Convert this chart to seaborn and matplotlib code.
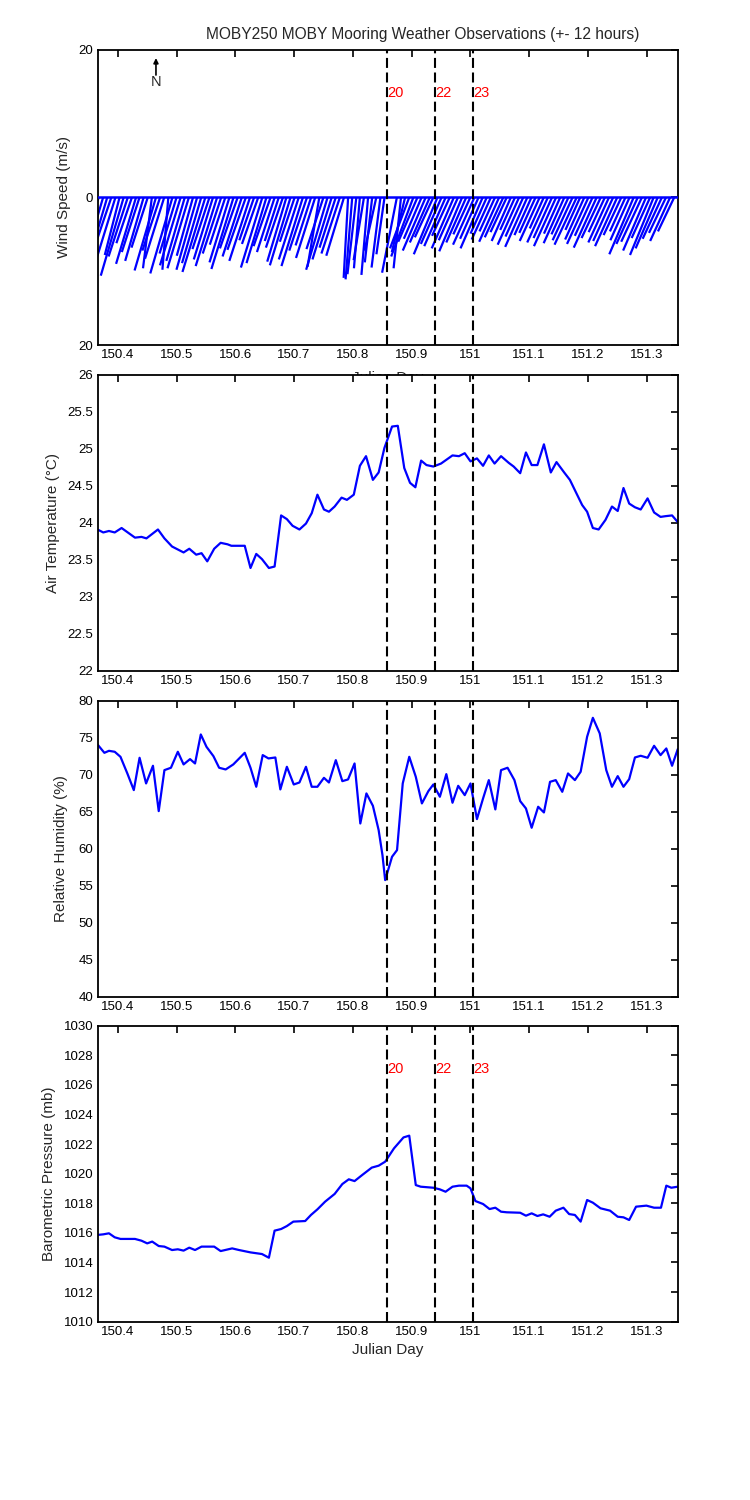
import matplotlib
matplotlib.use("Agg")
import matplotlib.pyplot as plt
from matplotlib.collections import LineCollection
import seaborn as sns

# --- chart text ---
title = "MOBY250 MOBY Mooring Weather Observations (+- 12 hours)"
event_days = [150.858, 150.940, 151.004]
event_labels = ["20", "22", "23"]
xtick_vals = [150.4, 150.5, 150.6, 150.7, 150.8, 150.9, 151.0, 151.1, 151.2, 151.3]

# --- wind sticks (m/s), 10 minute samples ---
wind_day = [
    150.368, 150.375, 150.382, 150.389, 150.396, 150.403, 150.410, 150.417, 150.424, 150.431, 150.437, 150.444,
    150.451, 150.458, 150.465, 150.472, 150.479, 150.486, 150.493, 150.500, 150.507, 150.514, 150.521, 150.528,
    150.535, 150.542, 150.549, 150.556, 150.562, 150.569, 150.576, 150.583, 150.590, 150.597, 150.604, 150.611,
    150.618, 150.625, 150.632, 150.639, 150.646, 150.653, 150.660, 150.667, 150.674, 150.681, 150.687, 150.694,
    150.701, 150.708, 150.715, 150.722, 150.729, 150.736, 150.743, 150.750, 150.757, 150.764, 150.771, 150.778,
    150.785, 150.792, 150.799, 150.806, 150.812, 150.819, 150.826, 150.833, 150.840, 150.847,
    150.854,
    150.875, 150.882, 150.889, 150.896, 150.903, 150.910, 150.917, 150.924, 150.931, 150.937, 150.944, 150.951,
    150.958, 150.965, 150.972, 150.979, 150.986, 150.993, 151.000, 151.007, 151.014, 151.021, 151.028, 151.035,
    151.042, 151.049, 151.056, 151.062, 151.069, 151.076, 151.083, 151.090, 151.097, 151.104, 151.111, 151.118,
    151.125, 151.132, 151.139, 151.146, 151.153, 151.160, 151.167, 151.174, 151.181, 151.187, 151.194, 151.201,
    151.208, 151.215, 151.222, 151.229, 151.236, 151.243, 151.250, 151.257, 151.264, 151.271, 151.278, 151.285,
    151.292, 151.299, 151.306, 151.312, 151.319, 151.326, 151.333, 151.340, 151.347,
]
wind_u = [
    -2.4, -2.6, -3.0, -2.2, -2.9, -2.0, -3.1, -2.6, -2.1, -2.7, -2.4, -2.5,
    -2.2, -1.2, -2.9, -2.4, -2.6, -0.8, -3.0, -2.3, -2.8, -2.5, -2.9, -2.2,
    -2.8, -2.6, -3.1, -2.3, -2.6, -2.9, -2.5, -2.1, -2.7, -3.0, -2.4, -2.6,
    -2.5, -2.8, -2.0, -2.2, -2.9, -2.7, -2.3, -2.4, -1.9, -2.3, -2.6, -2.8,
    -2.0, -2.7, -2.9, -2.4, -2.1, -2.6, -1.6, -2.3, -2.9, -2.6, -2.2, -2.5,
    -2.4, -0.6, -0.9, -1.2, -0.8, -1.4, -0.9, -1.0, -1.6, -1.2,
    -1.1,
    -2.0, -1.0, -1.8, -2.6, -3.0, -2.6, -2.4, -3.1, -2.7, -2.5, -3.2, -2.8,
    -2.9, -2.4, -3.0, -2.6, -3.1, -2.7, -2.3, -2.9, -2.5, -3.0, -2.2, -2.6,
    -2.1, -2.7, -2.5, -2.2, -2.6, -2.0, -2.9, -2.4, -3.0, -2.3, -2.2, -2.7,
    -1.9, -2.8, -2.5, -3.0, -2.2, -2.8, -2.3, -2.7, -3.0, -2.0, -2.6, -2.9,
    -2.4, -3.1, -2.6, -2.2, -2.8, -2.7, -3.0, -2.4, -2.1, -2.6, -3.3, -2.9,
    -2.8, -3.1, -2.5, -3.2, -3.0, -2.6, -2.3, -2.7, -2.2,
]
wind_v = [
    -4.8, -8.9, -10.2, -6.5, -9.4, -7.8, -10.6, -8.0, -6.2, -9.0, -7.4, -8.6,
    -6.8, -9.6, -9.9, -7.2, -8.3, -9.8, -10.3, -7.6, -9.2, -8.6, -9.6, -7.9,
    -9.8, -8.9, -10.1, -7.0, -8.4, -9.3, -7.6, -6.4, -8.8, -9.7, -6.9, -8.0,
    -7.1, -8.6, -5.8, -6.3, -9.5, -8.9, -6.6, -7.4, -5.9, -6.8, -8.7, -9.2,
    -6.0, -8.4, -9.3, -7.2, -6.5, -8.2, -9.4, -7.0, -9.8, -8.4, -6.8, -7.6,
    -7.9, -10.9, -11.1, -10.4, -9.6, -8.5, -10.5, -8.8, -7.2, -9.5,
    -7.7,
    -10.2, -9.6, -7.4, -6.9, -8.0, -6.0, -5.6, -7.2, -6.1, -5.4, -7.7, -6.3,
    -6.6, -5.2, -6.9, -5.8, -7.3, -6.1, -5.0, -6.4, -5.6, -6.9, -4.9, -5.7,
    -4.6, -6.0, -5.4, -4.7, -5.9, -4.4, -6.4, -5.3, -6.7, -5.1, -4.8, -5.9,
    -4.2, -6.1, -5.5, -6.6, -4.9, -6.2, -5.0, -5.8, -6.4, -4.4, -5.7, -6.3,
    -5.2, -6.8, -5.5, -4.7, -6.1, -5.9, -6.6, -5.1, -4.6, -5.8, -7.7, -6.3,
    -6.0, -7.2, -5.5, -7.8, -6.9, -5.6, -4.8, -5.9, -4.6,
]

# --- air temperature (C) ---
temp_day = [
    150.3655, 150.3753, 150.3850, 150.3948, 150.4065, 150.4293, 150.4404, 150.4488, 150.4684, 150.4794,
    150.4924, 150.5120, 150.5217, 150.5335, 150.5426, 150.5523, 150.5641, 150.5751, 150.5868, 150.5934,
    150.6161, 150.6259, 150.6357, 150.6454, 150.6572, 150.6669, 150.6780, 150.6878, 150.6975, 150.7092,
    150.7203, 150.7301, 150.7398, 150.7509, 150.7594, 150.7691, 150.7809, 150.7900, 150.8017, 150.8121,
    150.8225, 150.8342, 150.8440, 150.8538, 150.8668, 150.8766, 150.8876, 150.8974, 150.9065, 150.9163,
    150.9254, 150.9371, 150.9501, 150.9697, 150.9807, 150.9905, 151.0003, 151.0113, 151.0217, 151.0315,
    151.0413, 151.0523, 151.0654, 151.0738, 151.0849, 151.0947, 151.1044, 151.1142, 151.1253, 151.1370,
    151.1467, 151.1598, 151.1695, 151.1793, 151.1904, 151.1988, 151.2086, 151.2184, 151.2301, 151.2411,
    151.2509, 151.2607, 151.2704, 151.2802, 151.2900, 151.3017, 151.3128, 151.3238, 151.3323, 151.3434,
    151.3531,
]
temp_c = [
    23.91, 23.87, 23.89, 23.87, 23.93, 23.80, 23.81, 23.79, 23.91, 23.79,
    23.68, 23.60, 23.65, 23.57, 23.59, 23.48, 23.65, 23.73, 23.71, 23.69,
    23.69, 23.39, 23.58, 23.51, 23.39, 23.41, 24.10, 24.05, 23.96, 23.91,
    23.99, 24.13, 24.38, 24.18, 24.15, 24.22, 24.34, 24.31, 24.38, 24.77,
    24.90, 24.58, 24.68, 25.01, 25.30, 25.31, 24.74, 24.54, 24.48, 24.84,
    24.78, 24.76, 24.80, 24.91, 24.90, 24.94, 24.83, 24.87, 24.77, 24.91,
    24.80, 24.90, 24.81, 24.76, 24.67, 24.95, 24.78, 24.78, 25.06, 24.68,
    24.82, 24.68, 24.58, 24.42, 24.24, 24.15, 23.93, 23.91, 24.04, 24.22,
    24.16, 24.47, 24.26, 24.21, 24.18, 24.33, 24.14, 24.08, 24.09, 24.10,
    24.01,
]

# --- relative humidity (%) ---
rh_day = [
    150.3655, 150.3772, 150.3850, 150.3948, 150.4046, 150.4163, 150.4273, 150.4371, 150.4482, 150.4599,
    150.4697, 150.4794, 150.4905, 150.5022, 150.5120, 150.5230, 150.5315, 150.5413, 150.5510, 150.5628,
    150.5725, 150.5836, 150.5966, 150.6161, 150.6259, 150.6357, 150.6467, 150.6565, 150.6682, 150.6767,
    150.6878, 150.6995, 150.7092, 150.7203, 150.7301, 150.7398, 150.7509, 150.7594, 150.7711, 150.7822,
    150.7919, 150.8030, 150.8128, 150.8232, 150.8342, 150.8440, 150.8505, 150.8551, 150.8668, 150.8753,
    150.8850, 150.8961, 150.9072, 150.9176, 150.9286, 150.9371, 150.9482, 150.9592, 150.9697, 150.9794,
    150.9905, 151.0003, 151.0113, 151.0217, 151.0315, 151.0426, 151.0523, 151.0634, 151.0751, 151.0849,
    151.0947, 151.1044, 151.1155, 151.1253, 151.1357, 151.1454, 151.1565, 151.1663, 151.1780, 151.1878,
    151.1988, 151.2086, 151.2203, 151.2314, 151.2411, 151.2509, 151.2607, 151.2704, 151.2802, 151.2900,
    151.3017, 151.3128, 151.3238, 151.3336, 151.3434, 151.3531,
]
rh_pct = [
    74.10, 72.97, 73.24, 73.11, 72.43, 70.18, 67.93, 72.30, 68.83, 71.22,
    65.09, 70.63, 70.95, 73.11, 71.40, 72.12, 71.53, 75.45, 73.78, 72.52,
    70.95, 70.72, 71.40, 72.97, 70.95, 68.38, 72.66, 72.21, 72.34, 68.02,
    71.08, 68.69, 68.96, 71.08, 68.38, 68.38, 69.59, 68.96, 71.98, 69.14,
    69.37, 71.53, 63.42, 67.48, 65.81, 62.52, 59.14, 55.77, 58.92, 59.82,
    68.83, 72.43, 69.73, 66.13, 67.79, 68.69, 67.03, 70.09, 66.22, 68.51,
    67.25, 68.83, 64.01, 66.80, 69.28, 65.32, 70.63, 70.95, 69.28, 66.44,
    65.45, 62.84, 65.68, 64.91, 69.05, 69.28, 67.70, 70.18, 69.28, 70.41,
    75.14, 77.70, 75.59, 70.63, 68.38, 69.82, 68.38, 69.41, 72.34, 72.57,
    72.30, 73.92, 72.66, 73.56, 71.22, 73.47,
]

# --- barometric pressure (mb) ---
bp_day = [
    150.3655, 150.3753, 150.3850, 150.3948, 150.4046, 150.4293, 150.4404, 150.4501, 150.4586, 150.4697,
    150.4794, 150.4924, 150.5022, 150.5120, 150.5217, 150.5315, 150.5426, 150.5641, 150.5751, 150.5947,
    150.6064, 150.6259, 150.6454, 150.6572, 150.6669, 150.6780, 150.6878, 150.6988, 150.7190, 150.7288,
    150.7398, 150.7529, 150.7691, 150.7822, 150.7932, 150.8030, 150.8160, 150.8323, 150.8440, 150.8551,
    150.8701, 150.8863, 150.8961, 150.9072, 150.9156, 150.9371, 150.9482, 150.9579, 150.9697, 150.9807,
    150.9938, 151.0003, 151.0087, 151.0217, 151.0328, 151.0426, 151.0523, 151.0621, 151.0849, 151.0947,
    151.1044, 151.1142, 151.1240, 151.1350, 151.1454, 151.1585, 151.1682, 151.1780, 151.1878, 151.1988,
    151.2086, 151.2216, 151.2379, 151.2509, 151.2607, 151.2704, 151.2821, 151.2997, 151.3128, 151.3245,
    151.3336, 151.3421, 151.3531,
]
bp_mb = [
    1015.86, 1015.90, 1015.97, 1015.70, 1015.59, 1015.59, 1015.47, 1015.29, 1015.41, 1015.11,
    1015.07, 1014.84, 1014.89, 1014.80, 1015.00, 1014.84, 1015.07, 1015.07, 1014.77, 1014.95,
    1014.84, 1014.68, 1014.57, 1014.32, 1016.15, 1016.26, 1016.46, 1016.76, 1016.80, 1017.21,
    1017.59, 1018.11, 1018.63, 1019.30, 1019.62, 1019.50, 1019.91, 1020.41, 1020.54, 1020.81,
    1021.71, 1022.45, 1022.57, 1019.23, 1019.12, 1019.05, 1018.94, 1018.78, 1019.12, 1019.19,
    1019.19, 1019.01, 1018.15, 1017.95, 1017.61, 1017.70, 1017.43, 1017.39, 1017.36, 1017.16,
    1017.32, 1017.14, 1017.25, 1017.09, 1017.50, 1017.70, 1017.27, 1017.21, 1016.76, 1018.22,
    1018.04, 1017.66, 1017.50, 1017.09, 1017.05, 1016.87, 1017.77, 1017.84, 1017.70, 1017.70,
    1019.19, 1019.05, 1019.12,
]

# --- style ---
sns.set_style("white")
plt.rcParams["font.family"] = ["Liberation Sans", "DejaVu Sans"]
plt.rcParams["axes.linewidth"] = 1.3
plt.rcParams["axes.edgecolor"] = "black"

fig = plt.figure(figsize=(7.5, 15), dpi=100)

# panel boxes in figure fractions (left, bottom, width, height)
boxes = [
    [0.1300, 0.7700, 0.7744, 0.1967],
    [0.1300, 0.5527, 0.7744, 0.1975],
    [0.1300, 0.3355, 0.7744, 0.1973],
    [0.1300, 0.1189, 0.7744, 0.1973],
]
axes = [fig.add_axes(b) for b in boxes]
ax1, ax2, ax3, ax4 = axes

blue = (0, 0, 1)
dash = (0, (4.8, 2.2))
xlim = (150.3655, 151.354)

for ax in axes:
    ax.set_facecolor("white")
    ax.set_xlim(*xlim)

# wind sticks: x offset scaled so that 1 m/s spans the same screen length on both axes
ax1.set_ylim(-20, 20)
bbox = ax1.get_window_extent()
px_per_day = bbox.width / (xlim[1] - xlim[0])
px_per_ms = bbox.height / 40.0
segs = [[(d, 0.0), (d + u * px_per_ms / px_per_day, v)]
        for d, u, v in zip(wind_day, wind_u, wind_v)]
ax1.add_collection(LineCollection(segs, colors=[blue], linewidths=1.6, zorder=2))
ax1.axhline(0, color=blue, lw=1.8, zorder=3)
ax1.set_yticks([-20, 0, 20])
ax1.set_yticklabels(["20", "0", "20"])
ax1.set_ylabel("Wind Speed (m/s)", fontsize=11)
ax1.annotate("", xy=(150.465, 18.9), xytext=(150.465, 16.6),
             arrowprops=dict(arrowstyle="-|>", color="black", lw=1.2,
                             mutation_scale=7, shrinkA=0, shrinkB=0))
ax1.text(150.465, 15.6, "N", ha="center", va="center", fontsize=10.5)
# the top panel's day label sits mostly hidden behind the panel below
ax1.set_xlabel("Julian Day", fontsize=11, labelpad=7)

# air temperature
sns.lineplot(x=temp_day, y=temp_c, ax=ax2, color=blue, lw=1.6, estimator=None)
ax2.set_ylim(22, 26)
ax2.set_yticks([22, 22.5, 23, 23.5, 24, 24.5, 25, 25.5, 26])
ax2.set_yticklabels(["22", "22.5", "23", "23.5", "24", "24.5", "25", "25.5", "26"])
ax2.set_ylabel("Air Temperature (\u00b0C)", fontsize=11)

# relative humidity
sns.lineplot(x=rh_day, y=rh_pct, ax=ax3, color=blue, lw=1.6, estimator=None)
ax3.set_ylim(40, 80)
ax3.set_yticks([40, 45, 50, 55, 60, 65, 70, 75, 80])
ax3.set_ylabel("Relative Humidity (%)", fontsize=11)

# pressure
sns.lineplot(x=bp_day, y=bp_mb, ax=ax4, color=blue, lw=1.6, estimator=None)
ax4.set_ylim(1010, 1030)
ax4.set_yticks([1010, 1012, 1014, 1016, 1018, 1020, 1022, 1024, 1026, 1028, 1030])
ax4.set_ylabel("Barometric Pressure (mb)", fontsize=11)
ax4.set_xlabel("Julian Day", fontsize=11, labelpad=4)

label_y = {0: 14.2, 3: 1027.1}
for i, ax in enumerate(axes):
    ax.set_xlim(*xlim)
    ax.set_xticks(xtick_vals)
    ax.set_xticklabels([f"{v:g}" for v in xtick_vals])
    ax.tick_params(direction="in", top=True, right=True, length=5, width=1.2,
                   labelsize=9.5, colors="black", pad=3)
    for s in ax.spines.values():
        s.set_visible(True)
        s.set_color("black")
    for d in event_days:
        ax.axvline(d, color="black", lw=1.5, ls=dash, zorder=4)
    if i in label_y:
        for d, lab in zip(event_days, event_labels):
            ax.text(d + 0.001, label_y[i], lab, color="red", fontsize=10.5,
                    ha="left", va="center")

ax1.yaxis.set_label_coords(-0.046, 0.5)
ax2.yaxis.set_label_coords(-0.064, 0.5)
ax3.yaxis.set_label_coords(-0.050, 0.5)
ax4.yaxis.set_label_coords(-0.072, 0.5)

fig.text(0.563, 0.977, title, ha="center", va="center", fontsize=11.2)

fig.savefig("out.png", dpi=100, facecolor="white")
